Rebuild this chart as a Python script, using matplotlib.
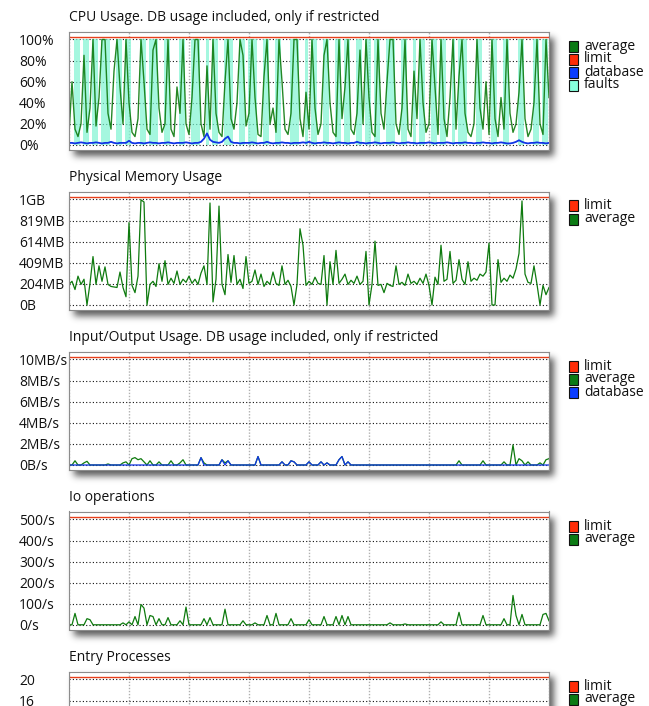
import numpy as np
import matplotlib
matplotlib.use('Agg')
import matplotlib.pyplot as plt
from matplotlib.patches import Rectangle

plt.rcParams['font.family'] = ['Open Sans', 'DejaVu Sans']

W, H = 649, 706

# ---- data ----
cpu_avg = [10, 60, 15, 8, 20, 85, 12, 35, 100, 18, 45, 100, 100, 30, 15, 70, 100, 55, 20, 100,
           40, 12, 8, 25, 100, 60, 15, 10, 90, 100, 35, 12, 20, 100, 15, 8, 55, 30, 100, 20,
           10, 45, 100, 100, 20, 8, 75, 15, 100, 30, 12, 8, 60, 100, 25, 15, 40, 100, 85, 18,
           30, 100, 45, 10, 8, 65, 100, 20, 35, 12, 100, 60, 15, 10, 30, 100, 100, 25, 8, 50,
           15, 100, 35, 10, 20, 85, 100, 40, 12, 8, 100, 25, 55, 100, 15, 10, 30, 90, 20, 100,
           45, 12, 8, 100, 30, 15, 60, 100, 100, 20, 10, 35, 100, 15, 8, 70, 25, 100, 40, 12,
           20, 100, 55, 10, 100, 25, 8, 45, 100, 15, 65, 100, 30, 12, 8, 20, 100, 35, 15, 60,
           10, 100, 25, 8, 45, 15, 100, 30, 12, 20, 50, 100, 25, 8, 15, 40, 100, 20, 10, 100, 45]
cpu_faults = [0, 0, 1, 1, 0, 1, 1, 0, 1, 1, 0, 1, 1, 1, 0, 0, 1, 1, 0, 1,
              1, 0, 0, 0, 1, 1, 0, 1, 1, 1, 0, 0, 1, 1, 0, 0, 0, 1, 1, 0,
              0, 1, 1, 1, 0, 0, 1, 0, 1, 1, 0, 0, 1, 1, 1, 0, 0, 1, 1, 0,
              1, 1, 1, 0, 0, 1, 1, 0, 0, 1, 1, 0, 0, 0, 1, 1, 1, 0, 0, 1,
              0, 1, 1, 0, 0, 1, 1, 0, 0, 1, 1, 0, 1, 1, 0, 0, 1, 1, 0, 1,
              1, 0, 1, 1, 0, 0, 1, 1, 1, 0, 0, 1, 1, 0, 0, 1, 0, 1, 1, 0,
              0, 1, 1, 0, 1, 1, 0, 0, 1, 0, 1, 1, 1, 0, 0, 0, 1, 1, 0, 0,
              0, 1, 1, 0, 0, 1, 1, 0, 0, 0, 1, 1, 0, 0, 0, 1, 1, 0, 1, 1, 0]
cpu_db = [2, 2, 1.5, 2, 2.5, 2, 1.5, 2, 2, 2.5, 2, 1.5, 2, 2, 3, 2, 1.5, 2, 2, 2,
          4, 2, 1.5, 2, 2, 1.5, 2, 2.5, 2, 2, 1.5, 2, 2, 2.5, 2, 1.5, 2, 2, 2, 2.5,
          2, 1.5, 2, 2, 3, 6, 11, 5, 3, 2.5, 2, 3, 6, 8, 3, 2, 2, 1.5, 2, 2,
          2, 2.5, 2, 1.5, 2, 2, 3, 2, 1.5, 2, 2, 2.5, 2, 2, 1.5, 2, 2, 2, 2.5, 2,
          3, 2, 1.5, 2, 2, 2.5, 2, 2, 1.5, 2, 2.5, 2, 2, 1.5, 2, 2, 3, 2, 2, 1.5,
          2, 2, 2.5, 2, 1.5, 2, 2, 2, 2.5, 2, 1.5, 2, 2, 2.5, 2, 2, 1.5, 2, 2, 2,
          2.5, 2, 1.5, 2, 2, 2, 2.5, 2, 1.5, 2, 2, 2, 2.5, 2, 2, 1.5, 2, 2, 2.5, 2,
          2, 1.5, 2, 2, 2.5, 2, 1.5, 1.5, 2, 3, 4.5, 3, 2, 1.5, 2, 2, 2.5, 2, 2, 1.5, 2]

mem_avg = [200, 230, 150, 280, 200, 250, 0, 210, 470, 200, 380, 230, 370, 200, 180, 175, 170, 320, 170, 80,
           800, 190, 120, 280, 1020, 1000, 0, 200, 230, 180, 400, 230, 430, 200, 260, 210, 330, 200, 250, 220,
           280, 210, 250, 200, 310, 380, 200, 990, 30, 250, 960, 200, 100, 490, 220, 480, 200, 250, 160, 470,
           210, 230, 340, 200, 300, 180, 230, 200, 320, 210, 190, 380, 200, 240, 180, 0, 200, 740, 580, 190,
           230, 200, 270, 210, 200, 480, 0, 420, 200, 530, 210, 250, 300, 200, 240, 210, 280, 200, 230, 520,
           0, 200, 620, 190, 200, 120, 210, 190, 180, 380, 200, 220, 190, 300, 210, 230, 200, 260, 210, 300,
           190, 0, 270, 200, 580, 230, 250, 520, 210, 240, 440, 250, 200, 420, 230, 260, 240, 300, 280, 320,
           600, 0, 0, 440, 220, 260, 230, 290, 260, 350, 500, 1010, 300, 220, 210, 380, 200, 0, 190, 100, 170]

io_avg = [0, 0, 0.4, 0, 0, 0.2, 0.35, 0, 0, 0, 0, 0, 0, 0.1, 0, 0, 0, 0, 0.2, 0.3,
          0, 0.6, 0.7, 0.5, 0.6, 0.3, 0, 0.4, 0, 0, 0.3, 0, 0, 0, 0.4, 0, 0, 0.2, 0.5, 0,
          0, 0, 0, 0, 0.7, 0.2, 0, 0, 0, 0, 0, 0.5, 0.2, 0.4, 0, 0, 0, 0, 0, 0,
          0, 0, 0, 0.8, 0, 0, 0, 0, 0, 0, 0, 0.3, 0, 0, 0.4, 0.3, 0, 0, 0, 0,
          0.3, 0, 0, 0, 0.3, 0, 0.2, 0, 0, 0, 0.5, 0.8, 0, 0.3, 0, 0, 0, 0, 0, 0,
          0, 0, 0, 0, 0, 0, 0, 0, 0, 0, 0, 0, 0, 0, 0, 0, 0, 0, 0, 0,
          0, 0, 0, 0, 0, 0, 0, 0, 0, 0, 0.4, 0, 0, 0, 0, 0, 0, 0, 0.4, 0,
          0, 0, 0, 0, 0, 0.3, 0, 0, 1.9, 0, 0.6, 0.4, 0, 0.3, 0, 0, 0, 0.2, 0, 0.5, 0.6]
io_db = [0, 0, 0, 0, 0, 0, 0, 0, 0, 0, 0, 0, 0, 0, 0, 0, 0, 0, 0, 0,
         0, 0, 0, 0, 0, 0, 0, 0, 0, 0, 0, 0, 0, 0, 0, 0, 0, 0, 0, 0,
         0, 0, 0, 0, 0.7, 0, 0, 0, 0, 0, 0, 0.5, 0, 0.4, 0, 0, 0, 0, 0, 0,
         0, 0, 0, 0.8, 0, 0, 0, 0, 0, 0, 0, 0.3, 0, 0, 0.4, 0.3, 0, 0, 0, 0,
         0.3, 0, 0, 0, 0.3, 0, 0.2, 0, 0, 0, 0.5, 0.8, 0, 0.3, 0, 0, 0, 0, 0, 0,
         0, 0, 0, 0, 0, 0, 0, 0, 0, 0, 0, 0, 0, 0, 0, 0, 0, 0, 0, 0,
         0, 0, 0, 0, 0, 0, 0, 0, 0, 0, 0, 0, 0, 0, 0, 0, 0, 0, 0, 0,
         0, 0, 0, 0, 0, 0, 0, 0, 0, 0, 0, 0, 0, 0, 0, 0, 0, 0, 0, 0, 0]

iops_avg = [1, 1, 55, 1, 1, 1, 30, 25, 1, 1, 1, 1, 1, 1, 1, 1, 1, 1, 10, 1,
            15, 1, 40, 1, 97, 80, 1, 45, 40, 1, 30, 1, 1, 35, 1, 1, 1, 20, 1, 85,
            1, 1, 1, 1, 1, 30, 1, 35, 1, 1, 1, 1, 75, 1, 1, 1, 1, 1, 20, 1,
            1, 1, 10, 1, 1, 1, 45, 1, 1, 55, 1, 1, 1, 1, 30, 1, 1, 1, 1, 1,
            25, 1, 1, 1, 1, 40, 1, 1, 1, 40, 1, 45, 1, 40, 1, 1, 1, 1, 1, 1,
            1, 1, 1, 1, 1, 1, 1, 10, 1, 1, 1, 1, 5, 1, 1, 1, 1, 1, 1, 1,
            1, 1, 1, 1, 15, 1, 1, 1, 1, 1, 60, 1, 1, 1, 1, 1, 1, 1, 45, 1,
            1, 1, 1, 1, 1, 30, 1, 1, 140, 45, 1, 50, 1, 1, 1, 1, 1, 1, 50, 55, 20]

ep_avg = [0, 0, 1, 0, 0, 0, 1, 0, 0, 0, 0, 1, 0, 0, 0, 0, 1, 0, 0, 0, 0]

titles = ['CPU Usage. DB usage included, only if restricted',
          'Physical Memory Usage',
          'Input/Output Usage. DB usage included, only if restricted',
          'Io operations',
          'Entry Processes']
limits = [100, 1024, 10, 500, 20]
ytick_labels = [['0%', '20%', '40%', '60%', '80%', '100%'],
                ['0B', '204MB', '409MB', '614MB', '819MB', '1GB'],
                ['0B/s', '2MB/s', '4MB/s', '6MB/s', '8MB/s', '10MB/s'],
                ['0/s', '100/s', '200/s', '300/s', '400/s', '500/s'],
                ['0', '4', '8', '12', '16', '20']]
legends = [['average', 'limit', 'database', 'faults'],
           ['limit', 'average'],
           ['limit', 'average', 'database'],
           ['limit', 'average'],
           ['limit', 'average']]

GREEN = '#0e7a0e'
RED = '#e8401c'
BLUE = '#1035e6'
AQUA = '#7ff5d2'
swatch = {'average': '#0b7a14', 'limit': '#ff2d08', 'database': '#0a3cff', 'faults': '#86ffdc'}

fig = plt.figure(figsize=(W / 100, H / 100), dpi=100)


def fx(x):
    return x / W


def fy(y):
    return 1 - y / H


def shadow(x0, y0, w, h, off=(5, 6), blur=3.5, alpha=0.8):
    m = int(3 * blur)
    ah, aw = int(h) + 2 * m, int(w) + 2 * m
    a = np.zeros((ah, aw))
    a[m:m + int(h), m:m + int(w)] = 1
    k = np.exp(-0.5 * (np.arange(-m, m + 1) / blur) ** 2)
    k /= k.sum()
    a = np.apply_along_axis(lambda r: np.convolve(r, k, 'same'), 1, a)
    a = np.apply_along_axis(lambda c: np.convolve(c, k, 'same'), 0, a)
    rgba = np.zeros((ah, aw, 4))
    rgba[..., :3] = 0.2
    rgba[..., 3] = a * alpha
    fig.figimage(rgba, xo=int(x0 + off[0] - m), yo=int(H - (y0 + off[1] + h) - m),
                 origin='upper', zorder=-1)


BOX_L, BOX_W, BOX_H = 69, 480, 118
axes = []
for k in range(5):
    top = 31.5 + 160 * k
    shadow(BOX_L, top, BOX_W, BOX_H)
    ax = fig.add_axes([fx(BOX_L), fy(top + BOX_H), BOX_W / W, BOX_H / H])
    T = limits[k]
    ax.set_ylim(-0.0427 * T, 1.0758 * T)
    ax.set_yticks(np.linspace(0, T, 6))
    ax.set_yticklabels(ytick_labels[k])
    ax.tick_params(axis='y', length=0, pad=36, labelsize=10, labelcolor='#111111')
    for lab in ax.get_yticklabels():
        lab.set_horizontalalignment('left')
    ax.tick_params(axis='x', length=0, labelbottom=False)
    for s in ax.spines.values():
        s.set_color('#8c8c8c')
        s.set_linewidth(0.8)
    ax.grid(axis='y', color='#111111', linestyle=(0, (1, 2)), linewidth=0.8)
    ax.grid(axis='x', color='#b0b0b0', linestyle=(0, (1, 1.2)), linewidth=1.0)
    ax.set_axisbelow(True)
    fig.text(fx(69), fy(17.5 + 160 * k), titles[k], fontsize=10, va='center', ha='left',
             color='#111111')
    for j, name in enumerate(legends[k]):
        yc = top + 14.5 + 13 * j
        fig.add_artist(Rectangle((fx(569), fy(yc + 5.5)), 9 / W, 11 / H,
                                 transform=fig.transFigure, facecolor=swatch[name],
                                 edgecolor='#111111', linewidth=0.8))
        fig.text(fx(584), fy(yc), name, fontsize=10, va='center', ha='left', color='#111111')
    axes.append(ax)

# the last panel runs past the bottom edge: its lower labels are not shown
for lab in axes[4].get_yticklabels()[:4]:
    lab.set_visible(False)


def set_x(ax, n):
    ax.set_xlim(0, n - 1)
    ax.set_xticks(np.linspace(0, n - 1, 9))


# CPU
ax = axes[0]
x = np.arange(len(cpu_avg))
set_x(ax, len(x))
flt = np.array(cpu_faults) * limits[0]
ax.fill_between(x, 0, flt, step='mid', color=AQUA, alpha=0.7, linewidth=0)
ax.plot(x, cpu_avg, color=GREEN, lw=1.0, alpha=0.9)
ax.plot(x, cpu_db, color=BLUE, lw=1.3)
ax.axhline(limits[0] * 1.024, color=RED, lw=1.0)

# Memory
ax = axes[1]
x = np.arange(len(mem_avg))
set_x(ax, len(x))
ax.plot(x, mem_avg, color=GREEN, lw=0.9)
ax.axhline(limits[1] * 1.024, color=RED, lw=1.0)

# IO
ax = axes[2]
x = np.arange(len(io_avg))
set_x(ax, len(x))
ax.plot(x, io_avg, color=GREEN, lw=0.9)
ax.plot(x, io_db, color=BLUE, lw=0.9)
ax.axhline(limits[2] * 1.024, color=RED, lw=1.0)

# IOPS
ax = axes[3]
x = np.arange(len(iops_avg))
set_x(ax, len(x))
ax.plot(x, iops_avg, color=GREEN, lw=0.9)
ax.axhline(limits[3] * 1.024, color=RED, lw=1.0)

# Entry processes
ax = axes[4]
x = np.arange(len(ep_avg))
set_x(ax, len(x))
ax.plot(x, ep_avg, color=GREEN, lw=0.9)
ax.axhline(limits[4] * 1.024, color=RED, lw=1.0)

fig.savefig('out.png', dpi=100, facecolor='white')
